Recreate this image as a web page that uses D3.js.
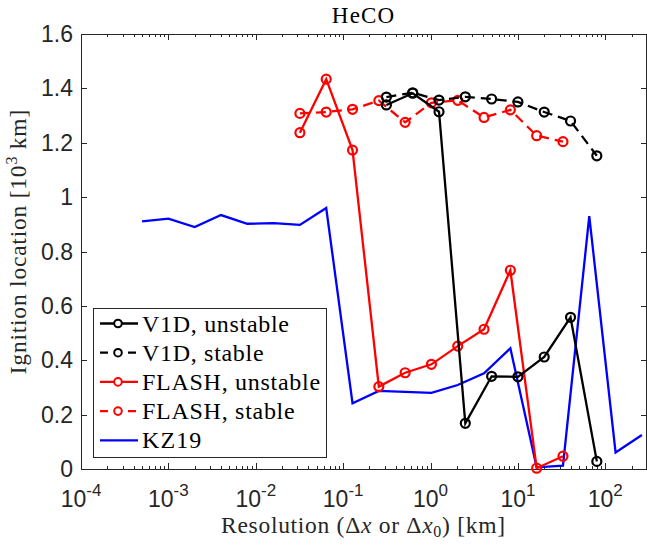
<!DOCTYPE html>
<html>
<head>
<meta charset="utf-8">
<script src="https://cdn.jsdelivr.net/npm/d3@7"></script>
<style>
body { margin: 0; background: #fff; }
svg { display: block; }
</style>
</head>
<body>
<div id="chart"></div>
<script>
// resolution (km) and ignition location (10^3 km)
const kzRes = [0.0005, 0.001, 0.002, 0.004, 0.008, 0.016, 0.032, 0.064, 0.128, 0.256,
    0.512, 1.024, 2.048, 4.096, 8.192, 16.384, 32.768, 65.536, 131.072, 262.144];
const kzIgn = [0.911, 0.921, 0.890, 0.934, 0.902, 0.904, 0.898, 0.960, 0.242, 0.287,
    0.284, 0.280, 0.309, 0.352, 0.444, 0.006, 0.012, 0.930, 0.061, 0.125];

const flashRes = [0.032, 0.064, 0.128, 0.256, 0.512, 1.024, 2.048, 4.096, 8.192, 16.384, 32.768];
const flashUnstable = [1.237, 1.434, 1.173, 0.303, 0.354, 0.385, 0.452, 0.514, 0.731, 0.003, 0.047];
const flashStable = [1.308, 1.313, 1.323, 1.355, 1.275, 1.347, 1.356, 1.293, 1.321, 1.226, 1.204];

const v1dRes = [0.3125, 0.625, 1.25, 2.5, 5, 10, 20, 40, 80];
const v1dUnstable = [1.339, 1.382, 1.314, 0.168, 0.341, 0.339, 0.412, 0.558, 0.028];
const v1dStable = [1.368, 1.384, 1.357, 1.369, 1.361, 1.350, 1.313, 1.280, 1.152];

const yTicks = [0, 0.2, 0.4, 0.6, 0.8, 1, 1.2, 1.4, 1.6];
const xTickExp = [-4, -3, -2, -1, 0, 1, 2];

const legendLabels = ["V1D, unstable", "V1D, stable", "FLASH, unstable", "FLASH, stable", "KZ19"];

// the LaTeX font runs wider than Times, so loosen the letter spacing a little
function widen(sel, k) {
    const w = sel.node().getComputedTextLength();
    sel.attr("textLength", w * k).attr("lengthAdjust", "spacing");
}

document.addEventListener("DOMContentLoaded", function () {
    const width = 647, height = 545;
    const left = 81, right = 647, top = 34, bottom = 469;
    const axisColor = "#262626";
    const serif = "'Liberation Serif', 'DejaVu Serif', serif";
    const sans = "'Liberation Sans', Arial, sans-serif";

    const svg = d3.select("#chart")
        .append("svg")
        .attr("width", width)
        .attr("height", height);

    const x = d3.scaleLog()
        .domain([1e-4, 300])
        .range([left, right]);

    const y = d3.scaleLinear()
        .domain([0, 1.6])
        .range([bottom, top]);

    // axes box
    svg.append("rect")
        .attr("x", left + 0.5)
        .attr("y", top + 0.5)
        .attr("width", right - left - 1)
        .attr("height", bottom - top)
        .attr("fill", "none")
        .attr("stroke", axisColor)
        .attr("stroke-width", 1);

    // y ticks (inward, both sides)
    yTicks.forEach(function (t) {
        const yy = Math.round(y(t)) + 0.5;
        svg.append("line").attr("x1", left).attr("x2", left + 6)
            .attr("y1", yy).attr("y2", yy).attr("stroke", axisColor);
        svg.append("line").attr("x1", right - 6).attr("x2", right)
            .attr("y1", yy).attr("y2", yy).attr("stroke", axisColor);
        svg.append("text")
            .attr("x", left - 8)
            .attr("y", y(t) + 8)
            .attr("text-anchor", "end")
            .attr("font-family", sans)
            .attr("font-size", 23)
            .attr("fill", axisColor)
            .text(d3.format("~g")(t));
    });

    // x ticks, major and minor
    const minor = [];
    for (let e = -4; e <= 2; e++) {
        for (let m = 2; m <= 9; m++) {
            const v = m * Math.pow(10, e);
            if (v <= 300) minor.push(v);
        }
    }
    minor.forEach(function (v) {
        const xx = Math.round(x(v)) + 0.5;
        svg.append("line").attr("x1", xx).attr("x2", xx)
            .attr("y1", bottom).attr("y2", bottom - 3).attr("stroke", axisColor);
        svg.append("line").attr("x1", xx).attr("x2", xx)
            .attr("y1", top).attr("y2", top + 3).attr("stroke", axisColor);
    });
    xTickExp.forEach(function (e) {
        const xx = Math.round(x(Math.pow(10, e))) + 0.5;
        svg.append("line").attr("x1", xx).attr("x2", xx)
            .attr("y1", bottom).attr("y2", bottom - 6).attr("stroke", axisColor);
        svg.append("line").attr("x1", xx).attr("x2", xx)
            .attr("y1", top).attr("y2", top + 6).attr("stroke", axisColor);
        const lab = svg.append("text")
            .attr("x", x(Math.pow(10, e)))
            .attr("y", 507)
            .attr("text-anchor", "middle")
            .attr("font-family", sans)
            .attr("font-size", 23)
            .attr("fill", axisColor);
        lab.append("tspan").text("10");
        lab.append("tspan")
            .attr("dy", -11)
            .attr("font-size", 17)
            .text(String(e));
    });

    // data lines
    const line = d3.line()
        .x(d => x(d[0]))
        .y(d => y(d[1]));

    const series = [
        { xs: kzRes, ys: kzIgn, color: "#0000ff", dash: null, marker: false },
        { xs: flashRes, ys: flashStable, color: "#ff0000", dash: "10,6", marker: true },
        { xs: flashRes, ys: flashUnstable, color: "#ff0000", dash: null, marker: true },
        { xs: v1dRes, ys: v1dStable, color: "#000000", dash: "10,6", marker: true },
        { xs: v1dRes, ys: v1dUnstable, color: "#000000", dash: null, marker: true }
    ];

    series.forEach(function (s) {
        const pts = s.xs.map((v, i) => [v, s.ys[i]]);
        svg.append("path")
            .datum(pts)
            .attr("fill", "none")
            .attr("stroke", s.color)
            .attr("stroke-width", 2.3)
            .attr("stroke-dasharray", s.dash)
            .attr("d", line);
        if (s.marker) {
            svg.selectAll(null)
                .data(pts)
                .enter().append("circle")
                .attr("cx", d => x(d[0]))
                .attr("cy", d => y(d[1]))
                .attr("r", 4.5)
                .attr("fill", "none")
                .attr("stroke", s.color)
                .attr("stroke-width", 2.2);
        }
    });

    // legend
    const legendSeries = [
        { color: "#000000", dash: null, marker: true },
        { color: "#000000", dash: "8,6", marker: true },
        { color: "#ff0000", dash: null, marker: true },
        { color: "#ff0000", dash: "8,6", marker: true },
        { color: "#0000ff", dash: null, marker: false }
    ];

    svg.append("rect")
        .attr("x", 93.5)
        .attr("y", 308.5)
        .attr("width", 233)
        .attr("height", 149)
        .attr("fill", "#fff")
        .attr("stroke", axisColor)
        .attr("stroke-width", 1);

    legendLabels.forEach(function (label, i) {
        const ly = 323.5 + i * 29.2;
        const s = legendSeries[i];
        svg.append("line")
            .attr("x1", 100).attr("x2", s.dash ? 136 : 138)
            .attr("y1", ly).attr("y2", ly)
            .attr("stroke", s.color)
            .attr("stroke-width", 2.3)
            .attr("stroke-dasharray", s.dash);
        if (s.marker) {
            svg.append("circle")
                .attr("cx", 118).attr("cy", ly)
                .attr("r", 3.8)
                .attr("fill", "#fff")
                .attr("stroke", s.color)
                .attr("stroke-width", 2);
        }
        const t = svg.append("text")
            .attr("x", 142)
            .attr("y", ly + 8)
            .attr("font-family", serif)
            .attr("font-size", 24)
            .attr("fill", "#000")
            .text(label);
        widen(t, 1.06);
    });

    // title and axis labels
    const title = svg.append("text")
        .attr("x", 363)
        .attr("y", 23)
        .attr("text-anchor", "middle")
        .attr("font-family", serif)
        .attr("font-size", 23)
        .attr("fill", "#000")
        .text("HeCO");
    widen(title, 1.06);

    const xl = svg.append("text")
        .attr("x", 363)
        .attr("y", 533)
        .attr("text-anchor", "middle")
        .attr("font-family", serif)
        .attr("font-size", 23.5)
        .attr("fill", axisColor);
    xl.append("tspan").text("Resolution (Δ");
    xl.append("tspan").attr("font-style", "italic").text("x");
    xl.append("tspan").text(" or Δ");
    xl.append("tspan").attr("font-style", "italic").text("x");
    xl.append("tspan").attr("font-size", 16).attr("dy", 4).text("0");
    xl.append("tspan").attr("dy", -4).text(") [km]");
    widen(xl, 1.07);

    const yl = svg.append("text")
        .attr("transform", "translate(26,242) rotate(-90)")
        .attr("text-anchor", "middle")
        .attr("font-family", serif)
        .attr("font-size", 23.5)
        .attr("fill", axisColor);
    yl.append("tspan").text("Ignition location [10");
    yl.append("tspan").attr("font-size", 16).attr("dy", -9).text("3");
    yl.append("tspan").attr("dy", 9).text(" km]");
    widen(yl, 1.08);
});
</script>
</body>
</html>
